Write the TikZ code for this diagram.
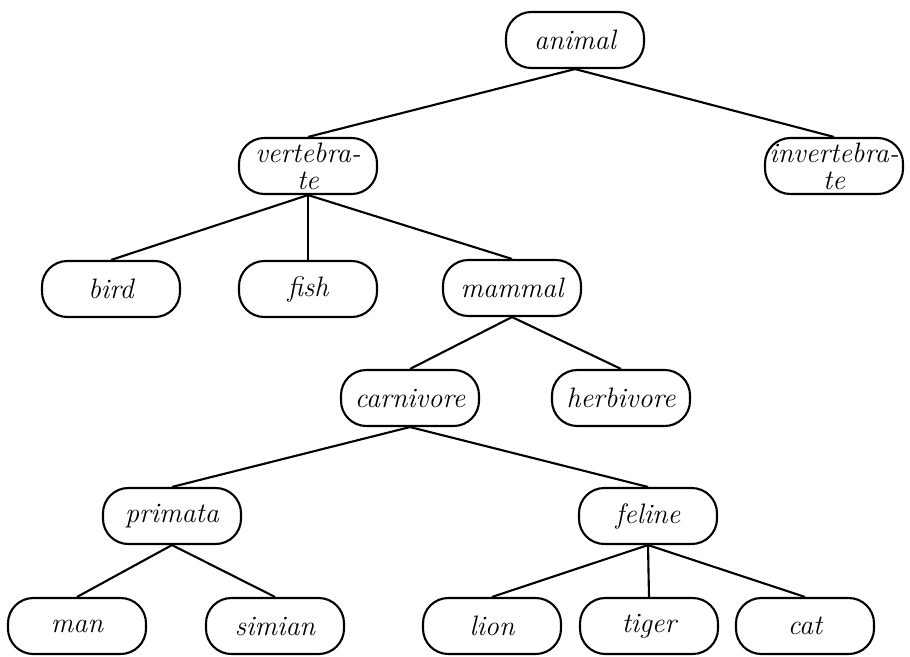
\documentclass[tikz,border=0pt]{standalone}
\usetikzlibrary{calc}

\begin{document}
\begin{tikzpicture}[x=0.015cm,y=-0.015cm,
  taxon/.style={draw,line width=0.9pt,rounded corners=0.38cm,
    minimum width=2.07cm,minimum height=0.84cm,inner sep=1pt,
    align=center,font=\large\itshape},
  branch/.style={line width=0.9pt}]
\useasboundingbox (0,0) rectangle (910,657);

\node[taxon] (animal) at (575,40) {animal};

\node[taxon] (vert) at (308,166) {vertebra-\\[-2.5pt]te};
\node[taxon] (invert) at (834,166) {invertebra-\\[-2.5pt]te};

\node[taxon] (bird) at (111,289) {bird};
\node[taxon] (fish) at (308,289) {fish};
\node[taxon] (mammal) at (512,288) {mammal};

\node[taxon] (carni) at (410,398) {carnivore};
\node[taxon] (herbi) at (621,398) {herbivore};

\node[taxon] (primata) at (172,516) {primata};
\node[taxon] (feline) at (648,516) {feline};

\node[taxon] (man) at (77,626) {man};
\node[taxon] (simian) at (275,626) {simian};
\node[taxon] (lion) at (492,626) {lion};
\node[taxon] (tiger) at (649,626) {tiger};
\node[taxon] (cat) at (805,626) {cat};


\draw[branch] (animal.south) -- (vert.north);
\draw[branch] (animal.south) -- (invert.north);

\foreach \kid in {bird,fish,mammal}
  \draw[branch] (vert.south) -- (\kid.north);

\draw[branch] (mammal.south) -- (carni.north);
\draw[branch] (mammal.south) -- (herbi.north);

\draw[branch] (carni.south) -- (primata.north);
\draw[branch] (carni.south) -- (feline.north);

\draw[branch] (primata.south) -- (man.north);
\draw[branch] (primata.south) -- (simian.north);

\foreach \kid in {lion,tiger,cat}
  \draw[branch] (feline.south) -- (\kid.north);

\end{tikzpicture}
\end{document}
